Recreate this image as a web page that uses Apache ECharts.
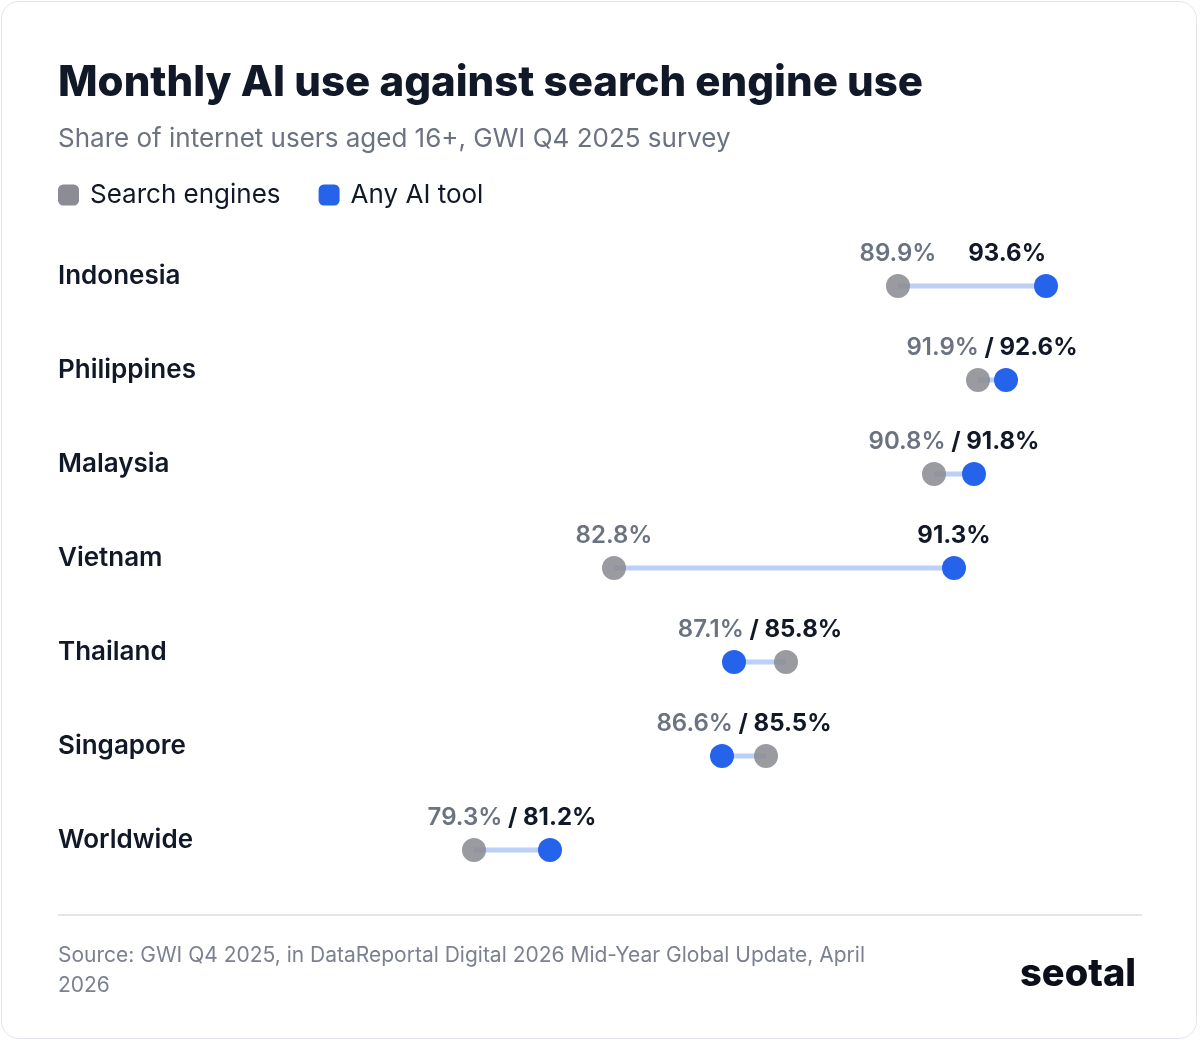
<!DOCTYPE html>
<html>
<head>
<meta charset="utf-8">
<script src="https://cdn.jsdelivr.net/npm/echarts@6/dist/echarts.min.js"></script>
<style>
  html, body { margin: 0; padding: 0; background: #fff; }
  #card { position: absolute; left: 1px; top: 1px; width: 1196px; height: 1038px;
          border: 1px solid #e3e6ec; border-radius: 18px; box-sizing: border-box; }
  #chart { position: absolute; left: 0; top: 0; width: 1200px; height: 1042px; }
</style>
</head>
<body>
<div id="card"></div>
<div id="chart"></div>
<script>
var countries = ['Indonesia', 'Philippines', 'Malaysia', 'Vietnam', 'Thailand', 'Singapore', 'Worldwide'];
var searchUse = [89.9, 91.9, 90.8, 82.8, 87.1, 86.6, 79.3];
var aiUse = [93.6, 92.6, 91.8, 91.3, 85.8, 85.5, 81.2];

var GRAY = '#8c8c94';
var BLUE = '#2563eb';
var TXT_GRAY = '#6b7280';
var TXT_DARK = '#111827';
var FONT = 'Inter, "Noto Sans", sans-serif';

var rows = [];
for (var i = 0; i < countries.length; i++) {
    rows.push([searchUse[i], aiUse[i], i]);
}

function fmt(v) { return v.toFixed(1) + '%'; }

// 连线 + 两个圆点 + 数值标签
function renderRow(params, api) {
    var s = api.value(0), a = api.value(1), idx = api.value(2);
    var ps = api.coord([s, idx]);
    var pa = api.coord([a, idx]);
    var kids = [
        { type: 'line', shape: { x1: ps[0], y1: ps[1], x2: pa[0], y2: pa[1] },
          style: { stroke: '#bcd0f7', lineWidth: 5 } },
        { type: 'circle', shape: { cx: ps[0], cy: ps[1], r: 12 },
          style: { fill: GRAY, opacity: 0.88 } },
        { type: 'circle', shape: { cx: pa[0], cy: pa[1], r: 12 },
          style: { fill: BLUE } }
    ];
    var ty = ps[1] - 32;
    if (Math.abs(a - s) > 2) {
        kids.push({ type: 'text', x: ps[0], y: ty,
            style: { text: fmt(s), fill: TXT_GRAY, font: '600 24px ' + FONT, align: 'center', verticalAlign: 'middle' } });
        // 靠右边缘时右对齐
        var edge = pa[0] > 1000;
        kids.push({ type: 'text', x: pa[0], y: ty,
            style: { text: fmt(a), fill: TXT_DARK, font: '700 24px ' + FONT,
                     align: edge ? 'right' : 'center', verticalAlign: 'middle' } });
    } else {
        kids.push({ type: 'text', x: (ps[0] + pa[0]) / 2, y: ty,
            style: {
                text: '{g|' + fmt(s) + '}{d| / ' + fmt(a) + '}',
                align: 'center', verticalAlign: 'middle',
                rich: {
                    g: { fill: TXT_GRAY, font: '600 24px ' + FONT },
                    d: { fill: TXT_DARK, font: '700 24px ' + FONT }
                }
            } });
    }
    return { type: 'group', children: kids };
}

var myChart = echarts.init(document.getElementById('chart'));
var option = {
    animation: false,
    title: {
        text: 'Monthly AI use against search engine use',
        subtext: 'Share of internet users aged 16+, GWI Q4 2025 survey',
        left: 58, top: 62, padding: 0, itemGap: 22,
        textStyle: { fontFamily: FONT, fontSize: 42, fontWeight: 800, color: TXT_DARK },
        subtextStyle: { fontFamily: FONT, fontSize: 26, color: TXT_GRAY }
    },
    legend: {
        left: 58, top: 182, padding: 0, itemGap: 38,
        icon: 'roundRect', itemWidth: 21, itemHeight: 21,
        textStyle: { fontFamily: FONT, fontSize: 26, color: TXT_DARK, padding: [0, 0, 0, 6] },
        data: [
            { name: 'Search engines', itemStyle: { color: GRAY, opacity: 1 } },
            { name: 'Any AI tool', itemStyle: { color: BLUE, opacity: 1 } }
        ]
    },
    grid: { left: 62, right: 58, top: 239, bottom: 145 },
    xAxis: { type: 'value', min: 69, max: 96, show: false },
    yAxis: {
        type: 'category', data: countries, inverse: true,
        axisLine: { show: false }, axisTick: { show: false }, splitLine: { show: false },
        axisLabel: { align: 'left', margin: 4, verticalAlign: 'bottom', lineHeight: 20,
            fontFamily: FONT, fontSize: 26, fontWeight: 600, color: TXT_DARK }
    },
    series: [
        { name: 'Search engines', type: 'scatter', data: [], itemStyle: { color: GRAY, opacity: 1 } },
        { name: 'Any AI tool', type: 'scatter', data: [], itemStyle: { color: BLUE, opacity: 1 } },
        { type: 'custom', renderItem: renderRow, data: rows, encode: { x: [0, 1], y: 2 } }
    ],
    graphic: [
        { type: 'line', shape: { x1: 58, y1: 915, x2: 1142, y2: 915 }, style: { stroke: '#e3e6ec', lineWidth: 2 } },
        { type: 'text', left: 58, top: 941,
          style: { text: 'Source: GWI Q4 2025, in DataReportal Digital 2026 Mid-Year Global Update, April\n2026',
                   fill: '#7b8190', font: '21px ' + FONT, lineHeight: 30 } },
        { type: 'text', right: 64, top: 956,
          style: { text: 'seotal', fill: '#0b0f1a', font: '800 38px ' + FONT } }
    ]
};
myChart.setOption(option);
</script>
</body>
</html>
